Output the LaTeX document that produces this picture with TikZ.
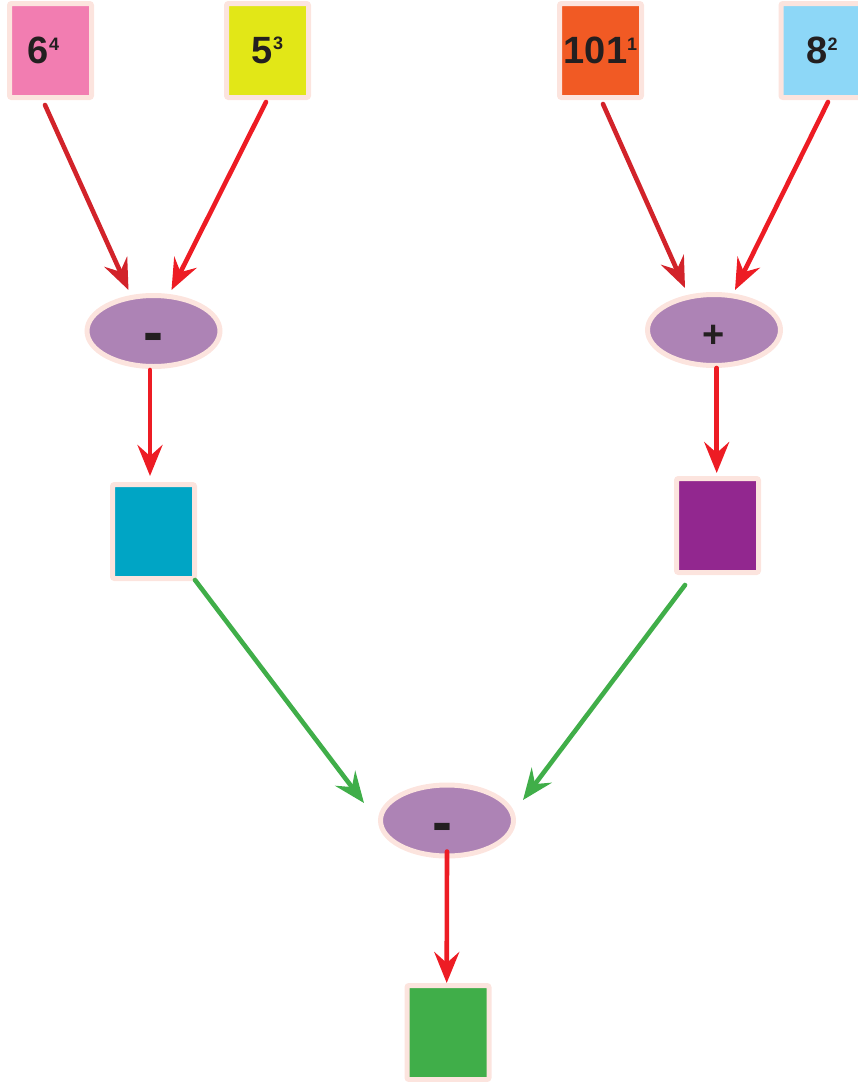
\documentclass[tikz,border=0pt]{standalone}
\usepackage{fontspec}
\setmainfont{Liberation Sans}
\usetikzlibrary{arrows.meta,shapes.geometric}
\definecolor{pinkbox}{HTML}{F27DB1}
\definecolor{yellowbox}{HTML}{E2E717}
\definecolor{orangebox}{HTML}{F15A24}
\definecolor{bluebox}{HTML}{8DD7F7}
\definecolor{ellfill}{HTML}{AD83B5}
\definecolor{cyanbox}{HTML}{00A5C5}
\definecolor{purplebox}{HTML}{92278F}
\definecolor{greenbox}{HTML}{40AE49}
\definecolor{rimcol}{HTML}{FCE4DE}
\definecolor{redarrow}{HTML}{ED1C24}
\definecolor{darkredarrow}{HTML}{D2232A}
\definecolor{greenarrow}{HTML}{40AE49}
\definecolor{inkcol}{HTML}{231F20}
\newcommand{\pw}[2]{{\fontsize{38}{38}\selectfont #1}\raisebox{13.5pt}{\fontsize{18}{18}\selectfont #2}}
\tikzset{
  numbox/.style={rectangle, draw=rimcol, line width=5pt, rounded corners=2pt,
    minimum width=82pt, minimum height=94pt, inner sep=0pt, text=inkcol,
    font=\bfseries},
  opell/.style={ellipse, draw=rimcol, fill=ellfill, line width=5pt,
    minimum width=133pt, minimum height=71pt, inner sep=0pt, text=inkcol,
    font=\bfseries, text height=0pt, text depth=0pt},
  conn/.style={line width=4.6pt, line cap=round,
    -{Stealth[length=31pt, width=25pt, inset=11pt]}},
}
\begin{document}
\begin{tikzpicture}[x=1pt, y=-1pt]
\useasboundingbox (0,0) rectangle (858,1082);
% top boxes
\node[numbox, fill=pinkbox] (p) at (50.5,50.5) {\kern-14pt\pw{6}{4}};
\node[numbox, fill=yellowbox] (yb) at (267.5,50.5) {\pw{5}{3}};
\node[numbox, fill=orangebox] (o) at (600.5,50.5) {\pw{101}{1}};
\node[numbox, fill=bluebox] (b) at (822,50.5) {\pw{8}{2}};
% operators
\node[opell] (e1) at (153.5,331) {\raisebox{-21.5pt}{\fontsize{60}{60}\selectfont -}};
\node[opell] (e2) at (714,330) {\raisebox{-17pt}{\fontsize{38}{38}\selectfont +}};
\node[opell] (e3) at (447,820.5) {\kern-9pt\raisebox{-21.5pt}{\fontsize{60}{60}\selectfont -}};
% result boxes
\node[numbox, fill=cyanbox] (c) at (153.5,531.5) {};
\node[numbox, fill=purplebox] (pu) at (717.5,525.5) {};
\node[numbox, fill=greenbox] (g) at (448,1032.5) {};
% connectors
\draw[conn, darkredarrow] ([shift={(-5.5,5)}]p.south) -- ([shift={(-25,-3)}]e1.north);
\draw[conn, redarrow] ([shift={(-1.5,2)}]yb.south) -- ([shift={(18,-3)}]e1.north);
\draw[conn, darkredarrow] ([shift={(2.5,4)}]o.south) -- ([shift={(-29,-4)}]e2.north);
\draw[conn, redarrow] ([shift={(6,2)}]b.south) -- ([shift={(21,-2)}]e2.north);
\draw[conn, redarrow] ([shift={(-3.5,1)}]e1.south) -- ([shift={(-3.5,-6)}]c.north);
\draw[conn, redarrow] ([shift={(2.7,0)}]e2.south) -- ([shift={(-0.8,-3)}]pu.north);
\draw[conn, greenarrow] ([shift={(-2,-1)}]c.south east) -- ([shift={(-83,-17.5)}]e3.center);
\draw[conn, greenarrow] ([shift={(11,10)}]pu.south west) -- ([shift={(76,-20.5)}]e3.center);
\draw[conn, redarrow] ([shift={(0,-7)}]e3.south) -- ([shift={(-1.3,0)}]g.north);
\end{tikzpicture}
\end{document}
